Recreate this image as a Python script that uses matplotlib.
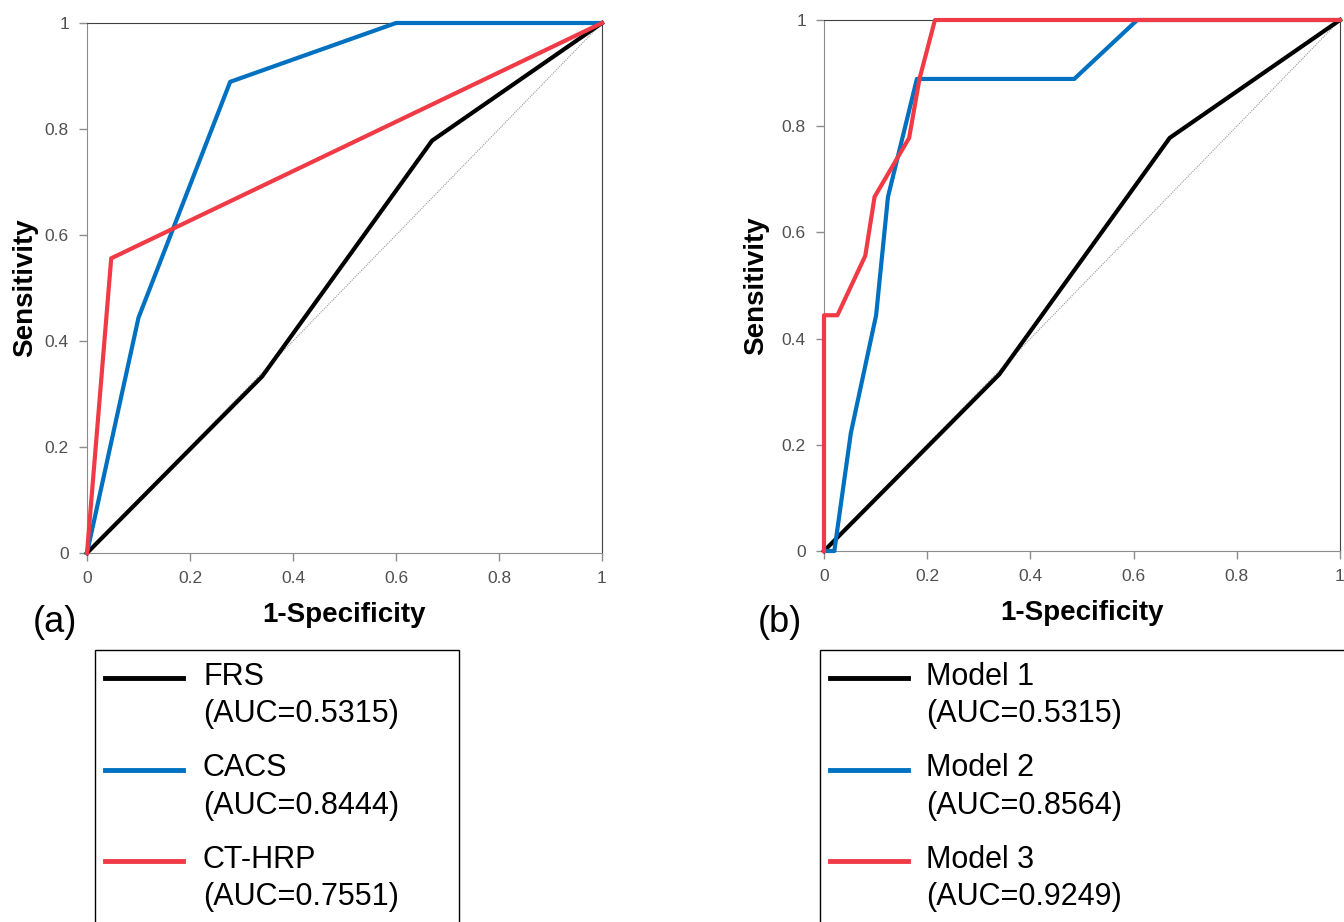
import matplotlib
matplotlib.use("Agg")
import matplotlib.pyplot as plt
from matplotlib.lines import Line2D
from matplotlib.patches import Rectangle

plt.rcParams['font.family'] = ['Liberation Sans', 'DejaVu Sans']

W, H = 1344, 922

# ROC data
frs_fpr = [0, 0.34, 0.67, 1]
frs_tpr = [0, 0.333, 0.778, 1]
cacs_fpr = [0, 0.10, 0.278, 0.60, 1]
cacs_tpr = [0, 0.444, 0.889, 1, 1]
hrp_fpr = [0, 0.047, 1]
hrp_tpr = [0, 0.556, 1]

m1_fpr = [0, 0.34, 0.67, 1]
m1_tpr = [0, 0.333, 0.778, 1]
m2_fpr = [0, 0.02, 0.052, 0.101, 0.124, 0.18, 0.485, 0.607, 1]
m2_tpr = [0, 0, 0.222, 0.444, 0.667, 0.889, 0.889, 1, 1]
m3_fpr = [0, 0, 0.026, 0.08, 0.098, 0.165, 0.185, 0.215, 1]
m3_tpr = [0, 0.444, 0.444, 0.556, 0.667, 0.778, 0.889, 1, 1]

names_a = ['FRS', 'CACS', 'CT-HRP']
names_b = ['Model 1', 'Model 2', 'Model 3']
auc_a = ['0.5315', '0.8444', '0.7551']
auc_b = ['0.5315', '0.8564', '0.9249']
colors = ['#000000', '#0070C0', '#F03A46']

ticks = [0, 0.2, 0.4, 0.6, 0.8, 1]
tick_labels = ['0', '0.2', '0.4', '0.6', '0.8', '1']


def fx(x):
    return x / W


def fy(y):
    return 1 - y / H


def setup_axes(ax, ylab_x):
    ax.plot([0, 1], [0, 1], color='#9a9a9a', lw=0.8, ls=(0, (1, 1)), zorder=1)
    ax.set_xlim(0, 1)
    ax.set_ylim(0, 1)
    ax.set_xticks(ticks)
    ax.set_xticklabels(tick_labels)
    ax.set_yticks(ticks)
    ax.set_yticklabels(tick_labels)
    ax.tick_params(labelsize=12.5, length=6, width=1, color='#8c8c8c',
                   labelcolor='#505050', pad=7)
    for s in ['left', 'bottom']:
        ax.spines[s].set_color('#8c8c8c')
    for s in ['top', 'right']:
        ax.spines[s].set_color('#404040')
    ax.set_xlabel('1-Specificity', fontsize=20, fontweight='bold')
    ax.set_ylabel('Sensitivity', fontsize=20, fontweight='bold')
    ax.xaxis.label.set_va('center')
    ax.yaxis.label.set_va('center')
    ax.xaxis.set_label_coords(0.5, -0.117)
    ax.yaxis.set_label_coords(ylab_x, 0.5)


fig = plt.figure(figsize=(W / 100, H / 100), dpi=100)

ax1 = fig.add_axes([fx(87), fy(553), fx(602 - 87), (553 - 23) / H])
ax2 = fig.add_axes([fx(824), fy(551), fx(1340 - 824), (551 - 20) / H])

setup_axes(ax1, -0.120)
setup_axes(ax2, -0.132)

for xs, ys, c in zip([frs_fpr, cacs_fpr, hrp_fpr], [frs_tpr, cacs_tpr, hrp_tpr], colors):
    ax1.plot(xs, ys, color=c, lw=3, clip_on=False, zorder=3)
for xs, ys, c in zip([m1_fpr, m2_fpr, m3_fpr], [m1_tpr, m2_tpr, m3_tpr], colors):
    ax2.plot(xs, ys, color=c, lw=3, clip_on=False, zorder=3)

fig.text(fx(55), fy(623), '(a)', fontsize=26, ha='center', va='center')
fig.text(fx(780), fy(623), '(b)', fontsize=26, ha='center', va='center')

# legend boxes drawn by hand (two-line labels, handle next to first line)
def legend_box(x0, x1, text_x, names, aucs):
    fig.add_artist(Rectangle((fx(x0), fy(935)), fx(x1 - x0), (935 - 650) / H,
                             transform=fig.transFigure, fill=False,
                             edgecolor='black', lw=1))
    for i, (n, a, c) in enumerate(zip(names, aucs, colors)):
        yl = 678 + i * 91.5
        fig.add_artist(Line2D([fx(x0 + 10), fx(x0 + 88)], [fy(yl), fy(yl)],
                              transform=fig.transFigure, color=c, lw=3.5))
        fig.text(fx(text_x), fy(yl - 1), n, fontsize=22, va='center')
        fig.text(fx(text_x), fy(yl + 36), '(AUC=' + a + ')', fontsize=22, va='center')


legend_box(95, 459, 203, names_a, auc_a)
legend_box(820, 1360, 926, names_b, auc_b)

fig.savefig('out.png', dpi=100)
